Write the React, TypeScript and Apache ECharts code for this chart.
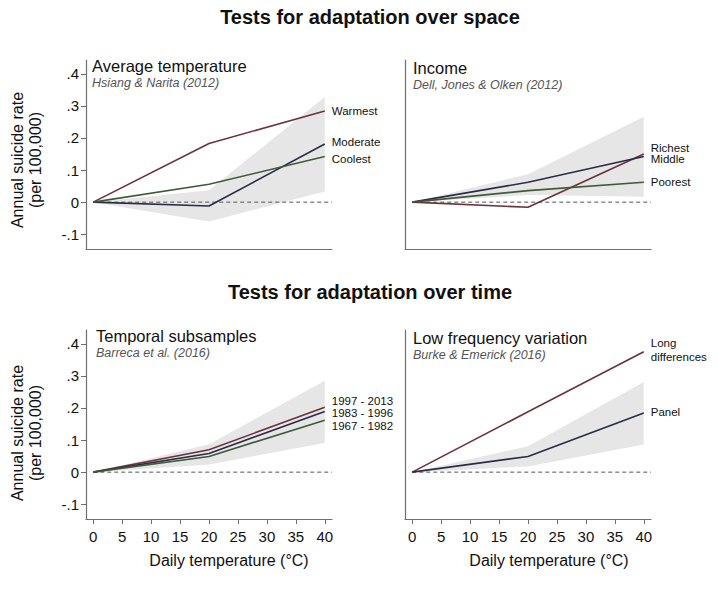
import React, { useEffect, useRef } from "react";
import * as echarts from "echarts";

const FONT = '"Liberation Sans", Arial, Helvetica, sans-serif';

const xVals = [0, 20, 40];
const xTicks = [0, 5, 10, 15, 20, 25, 30, 35, 40];
const yTicks = [-0.1, 0, 0.1, 0.2, 0.3, 0.4];

// Panel 1: Average temperature (Hsiang & Narita 2012)
const tempWarmest = [0, 0.183, 0.284];
const tempModerate = [0, -0.012, 0.181];
const tempCoolest = [0, 0.056, 0.142];
const tempLow = [0, -0.06, 0.033];
const tempHigh = [0, 0.037, 0.328];

// Panel 2: Income (Dell, Jones & Olken 2012)
const incRichest = [0, -0.016, 0.15];
const incMiddle = [0, 0.062, 0.142];
const incPoorest = [0, 0.036, 0.062];
const incLow = [0, 0.022, 0.017];
const incHigh = [0, 0.087, 0.266];

// Panel 3: Temporal subsamples (Barreca et al. 2016)
const sub1997 = [0, 0.07, 0.202];
const sub1983 = [0, 0.058, 0.189];
const sub1967 = [0, 0.049, 0.162];
const subLow = [0, 0.024, 0.091];
const subHigh = [0, 0.087, 0.285];

// Panel 4: Low frequency variation (Burke & Emerick 2016)
const lfLong = [0, 0.188, 0.375];
const lfPanel = [0, 0.049, 0.184];
const lfLow = [0, 0.018, 0.086];
const lfHigh = [0, 0.081, 0.281];

const MAROON = "#6d3339";
const NAVY = "#2a2c47";
const GREEN = "#3e5a38";
const BAND = "#e6e6e6";
const AXIS = "#6f6f6f";

type LineDef = { label: string; data: number[]; color: string; dy: number; lh?: number };

function bandSeries(gi: number, low: number[], high: number[]) {
  return {
    type: "custom",
    xAxisIndex: gi,
    yAxisIndex: gi,
    silent: true,
    z: 1,
    data: [[0, 0]],
    renderItem: (_p: any, api: any) => {
      const upper = xVals.map((x, i) => api.coord([x, high[i]]));
      const lower = xVals.map((x, i) => api.coord([x, low[i]])).reverse();
      return {
        type: "polygon",
        shape: { points: upper.concat(lower) },
        style: { fill: BAND, stroke: "none" },
      };
    },
  };
}

function zeroSeries(gi: number) {
  return {
    type: "line",
    xAxisIndex: gi,
    yAxisIndex: gi,
    silent: true,
    symbol: "none",
    z: 2,
    data: [
      [0, 0],
      [41.25, 0],
    ],
    lineStyle: { color: "#555", width: 1, type: [4, 3] },
  };
}

function lineSeries(gi: number, l: LineDef) {
  return {
    type: "line",
    xAxisIndex: gi,
    yAxisIndex: gi,
    silent: true,
    symbol: "none",
    z: 3,
    data: xVals.map((x, i) => [x, l.data[i]]),
    lineStyle: { color: l.color, width: 1.6 },
    itemStyle: { color: l.color },
    endLabel: {
      show: true,
      formatter: l.label,
      color: "#111",
      fontSize: 11.5,
      fontFamily: FONT,
      lineHeight: l.lh ?? 11,
      distance: 7,
      offset: [0, l.dy],
    },
  };
}

const panels = [
  {
    low: tempLow,
    high: tempHigh,
    lines: [
      { label: "Warmest", data: tempWarmest, color: MAROON, dy: 0 },
      { label: "Moderate", data: tempModerate, color: NAVY, dy: -2 },
      { label: "Coolest", data: tempCoolest, color: GREEN, dy: 2 },
    ],
  },
  {
    low: incLow,
    high: incHigh,
    lines: [
      { label: "Richest", data: incRichest, color: MAROON, dy: -6.5 },
      { label: "Middle", data: incMiddle, color: NAVY, dy: 2 },
      { label: "Poorest", data: incPoorest, color: GREEN, dy: 0 },
    ],
  },
  {
    low: subLow,
    high: subHigh,
    lines: [
      { label: "1997 - 2013", data: sub1997, color: MAROON, dy: -6.3 },
      { label: "1983 - 1996", data: sub1983, color: NAVY, dy: 1.6 },
      { label: "1967 - 1982", data: sub1967, color: GREEN, dy: 6 },
    ],
  },
  {
    low: lfLow,
    high: lfHigh,
    lines: [
      { label: "Long\ndifferences", data: lfLong, color: MAROON, dy: -2, lh: 14 },
      { label: "Panel", data: lfPanel, color: NAVY, dy: -1 },
    ],
  },
];

const grids = [
  { left: 86, top: 60, width: 246, height: 189 },
  { left: 405, top: 60, width: 246, height: 189 },
  { left: 86, top: 330, width: 246, height: 189 },
  { left: 405, top: 330, width: 246, height: 189 },
];

function yFmt(v: number) {
  if (Math.abs(v) < 1e-9) return "0";
  const s = v.toFixed(1);
  return s.replace("0.", ".");
}

function buildOption() {
  const xAxis = grids.map((_g, i) => {
    const bottom = i >= 2;
    return {
      type: "value",
      gridIndex: i,
      min: -1.25,
      max: 41.25,
      axisLine: { show: true, onZero: false, lineStyle: { color: AXIS, width: 1.2 } },
      splitLine: { show: false },
      axisTick: {
        show: bottom,
        customValues: xTicks,
        length: 5,
        lineStyle: { color: AXIS },
      },
      axisLabel: {
        show: bottom,
        customValues: xTicks,
        fontSize: 15,
        color: "#111",
        fontFamily: FONT,
        margin: 10,
      },
    };
  });
  const yAxis = grids.map((_g, i) => {
    const left = i % 2 === 0;
    return {
      type: "value",
      gridIndex: i,
      min: -0.146,
      max: 0.443,
      axisLine: { show: true, onZero: false, lineStyle: { color: AXIS, width: 1.2 } },
      splitLine: { show: false },
      axisTick: {
        show: left,
        customValues: yTicks,
        length: 5,
        lineStyle: { color: AXIS },
      },
      axisLabel: {
        show: left,
        customValues: yTicks,
        formatter: yFmt,
        fontSize: 15,
        color: "#111",
        fontFamily: FONT,
        margin: 7,
      },
    };
  });
  const series: any[] = [];
  panels.forEach((p, gi) => {
    series.push(bandSeries(gi, p.low, p.high));
    series.push(zeroSeries(gi));
    p.lines.forEach((l) => series.push(lineSeries(gi, l)));
  });

  const txt = (
    text: string,
    x: number,
    y: number,
    font: string,
    fill = "#111",
    align = "left",
    vAlign = "top"
  ) => ({
    type: "text",
    x,
    y,
    silent: true,
    style: { text, font, fill, textAlign: align, textVerticalAlign: vAlign },
  });

  const yName = (y: number) => ({
    type: "text",
    x: 26.5,
    y,
    rotation: Math.PI / 2,
    silent: true,
    style: {
      text: "Annual suicide rate\n(per 100,000)",
      font: `16px ${FONT}`,
      fill: "#111",
      textAlign: "center",
      textVerticalAlign: "middle",
      lineHeight: 18,
    },
  });

  const graphic = [
    txt("Tests for adaptation over space", 370, 7, `bold 20px ${FONT}`, "#111", "center"),
    txt("Tests for adaptation over time", 370, 282, `bold 20px ${FONT}`, "#111", "center"),
    txt("Average temperature", 92, 57, `16.5px ${FONT}`),
    txt("Hsiang & Narita (2012)", 92, 76, `italic 12.5px ${FONT}`, "#555"),
    txt("Income", 413, 59.5, `16.5px ${FONT}`),
    txt("Dell, Jones & Olken (2012)", 413, 78.5, `italic 12.5px ${FONT}`, "#555"),
    txt("Temporal subsamples", 96, 327, `16.5px ${FONT}`),
    txt("Barreca et al. (2016)", 96, 346.5, `italic 12.5px ${FONT}`, "#555"),
    txt("Low frequency variation", 413, 329, `16.5px ${FONT}`),
    txt("Burke & Emerick (2016)", 413, 348, `italic 12.5px ${FONT}`, "#555"),
    yName(160),
    yName(433),
    txt("Daily temperature (°C)", 229, 560, `16px ${FONT}`, "#111", "center", "middle"),
    txt("Daily temperature (°C)", 549, 560, `16px ${FONT}`, "#111", "center", "middle"),
  ];

  return {
    animation: false,
    backgroundColor: "#ffffff",
    textStyle: { fontFamily: FONT },
    grid: grids,
    xAxis,
    yAxis,
    series,
    graphic,
  };
}

export default function App() {
  const ref = useRef<HTMLDivElement>(null);
  useEffect(() => {
    if (!ref.current) return;
    const chart = echarts.init(ref.current, undefined, { renderer: "svg" });
    chart.setOption(buildOption() as any);
    return () => chart.dispose();
  }, []);
  return <div ref={ref} style={{ width: 718, height: 604, position: "absolute", left: 0, top: 0 }} />;
}
